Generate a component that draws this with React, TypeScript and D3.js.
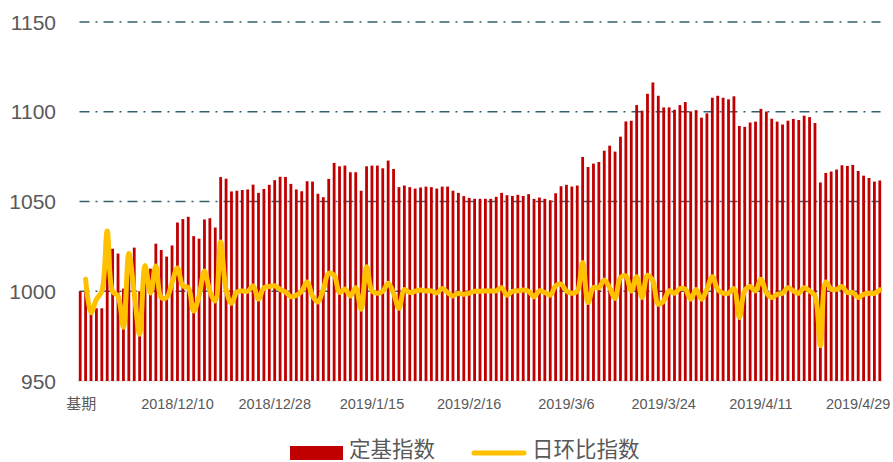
import React from 'react';
import * as d3 from 'd3';

// 定基指数 (index 0 = 基期)
const baseIndex = [
  1000, 1000, 988, 990.5, 990.5, 1024, 1023.7, 1021, 1001.5, 1020,
  1024.3, 1000, 1013, 1012.6, 1026.5, 1023, 1019.3, 1025.5, 1038.3, 1040.2,
  1041.5, 1030.7, 1029.3, 1040, 1040.7, 1035.5, 1063.6, 1062.7, 1055.6, 1056,
  1056.4, 1056.7, 1059.4, 1054.8, 1057, 1059.3, 1061.9, 1063.8, 1063.7, 1059.8,
  1056.7, 1055.7, 1061.3, 1061.1, 1054.3, 1052.4, 1062.6, 1071.5, 1069.6, 1070,
  1066.3, 1066.3, 1056, 1069.6, 1070, 1070, 1068.5, 1072.8, 1068.1, 1058,
  1058.9, 1058, 1057.2, 1057.8, 1058.3, 1058, 1057.2, 1058.3, 1058.3, 1056,
  1054.8, 1053, 1052, 1051.5, 1051.5, 1051.5, 1051.5, 1052.6, 1054.8, 1053.5,
  1053.1, 1053.7, 1053.1, 1054.1, 1051.5, 1052.2, 1051.5, 1050.7, 1054.6, 1058.5,
  1059.3, 1058.3, 1058.9, 1074.8, 1069.2, 1071.1, 1072, 1078.3, 1081.1, 1077.8,
  1086.1, 1094.6, 1095, 1103.7, 1100.6, 1110, 1116.3, 1108.9, 1102.4, 1102.4,
  1101.1, 1103.7, 1105.4, 1100.2, 1100.9, 1096.7, 1099.1, 1107.8, 1108.9, 1107.8,
  1106.9, 1108.6, 1092.1, 1091.6, 1094, 1094.5, 1101.6, 1100.1, 1096.1, 1094.5,
  1092.9, 1095, 1096, 1095.4, 1097.8, 1097, 1093.7, 1060.6, 1065.9, 1066.7,
  1067.8, 1070.2, 1069.8, 1070.4, 1067, 1064.4, 1063.1, 1061.1, 1061.7,
];

// 日环比指数 (no value for 基期)
const dailyIndex: (number | null)[] = [
  null, 1006.7, 988, 995.5, 1000, 1033.5, 1000, 997.4, 980, 1021,
  999, 976, 1014.4, 999, 1014, 996.5, 996.5, 1004.8, 1013, 1003,
  1002, 989, 997.4, 1011.3, 1000, 994.6, 1027.4, 1001, 993.3, 999.6,
  1000.2, 1000, 1003, 995.6, 1002, 1002.6, 1003, 1001, 999.6, 996.9,
  997.8, 1000, 1005.2, 997.4, 994, 1001, 1010, 1008.9, 999.3, 1001.3,
  997.4, 1002, 990, 1013.7, 1000.2, 998.9, 1000, 1004.4, 998.9, 990.5,
  1001, 999.3, 1000, 1000.7, 1000.2, 1000.2, 999, 1001.5, 999.3, 997.4,
  998.9, 998.3, 999, 1000, 1000, 1000.2, 1000.2, 1000.2, 1002, 997.8,
  1000, 1000.2, 1000.7, 1000, 997, 1000.2, 999.3, 997.8, 1003, 1003.9,
  1000.2, 998.9, 1000, 1016, 993.7, 1002, 1002, 1006.3, 1002, 996,
  1007.6, 1008.5, 1000.2, 1008.1, 996.5, 1008.9, 1005.7, 992.8, 994.6, 1000.2,
  998.9, 1001.5, 1001.1, 995.6, 1001, 995.6, 1001, 1008.1, 1001, 998.9,
  998.9, 1001.5, 985.4, 1000.2, 1002.6, 1000.2, 1006.7, 999.3, 996.5, 998.3,
  998.9, 1002, 1000.2, 998.9, 1002, 1000.2, 997.4, 969.6, 1005.2, 1001.1,
  1001.1, 1002.6, 999.3, 999.3, 996.5, 998.3, 998.9, 998.9, 1000.7,
];

const tickLabels = [
  '基期', '2018/12/10', '2018/12/28', '2019/1/15', '2019/2/16',
  '2019/3/6', '2019/3/24', '2019/4/11', '2019/4/29',
];
const tickStep = 18;
const yTicks = [950, 1000, 1050, 1100, 1150];

const W = 893;
const H = 462;
const left = 77.5;
const right = 882.5;
const top = 22;
const bottom = 381;

export default function App() {
  const idx = d3.range(baseIndex.length);
  const x = d3.scaleBand<number>().domain(idx).range([left, right]).paddingInner(0.48).paddingOuter(0.24);
  const y = d3.scaleLinear().domain([950, 1150]).range([bottom, top]);
  const cx = (i: number) => (x(i) as number) + x.bandwidth() / 2;

  const line = d3
    .line<number | null>()
    .defined(d => d != null)
    .x((_, i) => cx(i))
    .y(d => y(d as number))
    .curve(d3.curveCatmullRom.alpha(0.5));

  const font = '"Liberation Sans", Arial, "Noto Sans CJK SC", sans-serif';

  return (
    <svg width={W} height={H} style={{position: 'absolute', left: 0, top: 0, background: '#fff'}} fontFamily={font}>
      {yTicks.filter(t => t > 950).map(t => (
        <line key={t} x1={left + 2} x2={right - 2} y1={y(t)} y2={y(t)}
          stroke="#355f6e" strokeWidth={1.6} strokeDasharray="10 6 2 6" />
      ))}
      <line x1={left} x2={right} y1={y(950)} y2={y(950)} stroke="#d9d9d9" strokeWidth={1} />
      {yTicks.map(t => (
        <text key={t} x={56} y={y(t) + 7.5} textAnchor="end" fontSize={21} fill="#595959">{t}</text>
      ))}
      {baseIndex.map((v, i) => (
        <rect key={i} x={x(i)} y={y(v)} width={x.bandwidth()} height={y(950) - y(v)} fill="#C00000" />
      ))}
      <path d={line(dailyIndex) || ''} fill="none" stroke="#FFC000" strokeWidth={5}
        strokeLinejoin="round" strokeLinecap="round" />
      {tickLabels.map((t, k) => (
        <text key={t} x={cx(k * tickStep) + (k === 0 ? 1 : 0)} y={409} textAnchor="middle"
          fontSize={k === 0 ? 15 : 14.5} fill="#595959">{t}</text>
      ))}
      <rect x={290} y={446} width={53} height={14} fill="#C00000" />
      <text x={349} y={457} fontSize={21.5} fill="#595959">定基指数</text>
      <line x1={474} x2={524} y1={453} y2={453} stroke="#FFC000" strokeWidth={5} strokeLinecap="round" />
      <text x={532} y={457} fontSize={21.5} fill="#595959">日环比指数</text>
    </svg>
  );
}
